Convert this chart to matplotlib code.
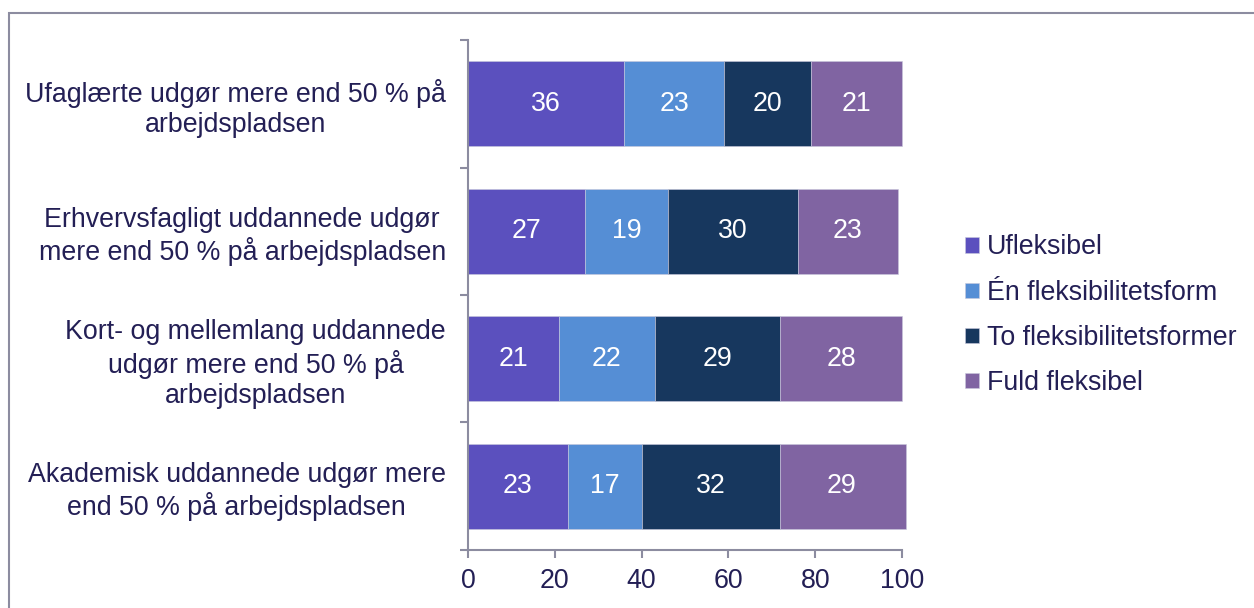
import matplotlib.pyplot as plt
from matplotlib.patches import Rectangle
import numpy as np

# Data
categories = [
    'Ufaglærte udgør mere end 50 % på\narbejdspladsen',
    'Erhvervsfagligt uddannede udgør\nmere end 50 % på arbejdspladsen',
    'Kort- og mellemlang uddannede\nudgør mere end 50 % på\narbejdspladsen',
    'Akademisk uddannede udgør mere\nend 50 % på arbejdspladsen',
]
series_names = ['Ufleksibel', 'Én fleksibilitetsform', 'To fleksibilitetsformer', 'Fuld fleksibel']
ufleksibel = [36, 27, 21, 23]
en_form = [23, 19, 22, 17]
to_former = [20, 30, 29, 32]
fuld = [21, 23, 28, 29]
x_ticks = [0, 20, 40, 60, 80, 100]

colors = ['#5b50be', '#558ed5', '#17375e', '#8064a2']
text_color = '#231f55'
axis_color = '#8c8ca0'
fs = 19.3

plt.rcParams['font.family'] = ['Liberation Sans', 'DejaVu Sans']

fig = plt.figure(figsize=(12.54, 6.08), dpi=100)
ax = fig.add_axes([0.3732, 0.0954, 0.3461, 0.8388])

# Outer frame (top and left visible)
fig.patches.append(Rectangle((9 / 1254, -0.1), 1.2, 1 - 13 / 608 + 0.1,
                             transform=fig.transFigure, fill=False,
                             edgecolor=axis_color, linewidth=1.5))

y = np.arange(len(categories))
left = np.zeros(len(categories))
for name, vals, col in zip(series_names, [ufleksibel, en_form, to_former, fuld], colors):
    bars = ax.barh(y, vals, left=left, height=0.667, color=col, label=name,
                   edgecolor='#c8c8dc', linewidth=0.4, clip_on=False)
    ax.bar_label(bars, labels=[str(v) for v in vals], label_type='center',
                 color='white', fontsize=fs)
    left += np.array(vals)

ax.set_xlim(0, 100)
ax.set_ylim(3.5, -0.5)
ax.set_xticks(x_ticks)
ax.set_yticks(y)
ax.set_yticklabels(categories, multialignment='center')
ax.set_yticks(np.arange(-0.5, 4.0, 1.0), minor=True)
ax.tick_params(axis='y', which='major', length=0, pad=16, labelsize=fs, labelcolor=text_color)
ax.tick_params(axis='y', which='minor', length=6, color=axis_color, width=1.5)
ax.tick_params(axis='x', length=6, color=axis_color, width=1.5, labelsize=fs,
               labelcolor=text_color, pad=7)

for s in ['top', 'right']:
    ax.spines[s].set_visible(False)
for s in ['left', 'bottom']:
    ax.spines[s].set_color(axis_color)
    ax.spines[s].set_linewidth(1.5)

leg = ax.legend(loc='center left', bbox_to_anchor=(1.09, 0.46), frameon=False,
                fontsize=fs, handlelength=0.5, handleheight=0.5,
                handletextpad=0.3, labelspacing=0.72, labelcolor=text_color)

plt.savefig('out.png', dpi=100)
